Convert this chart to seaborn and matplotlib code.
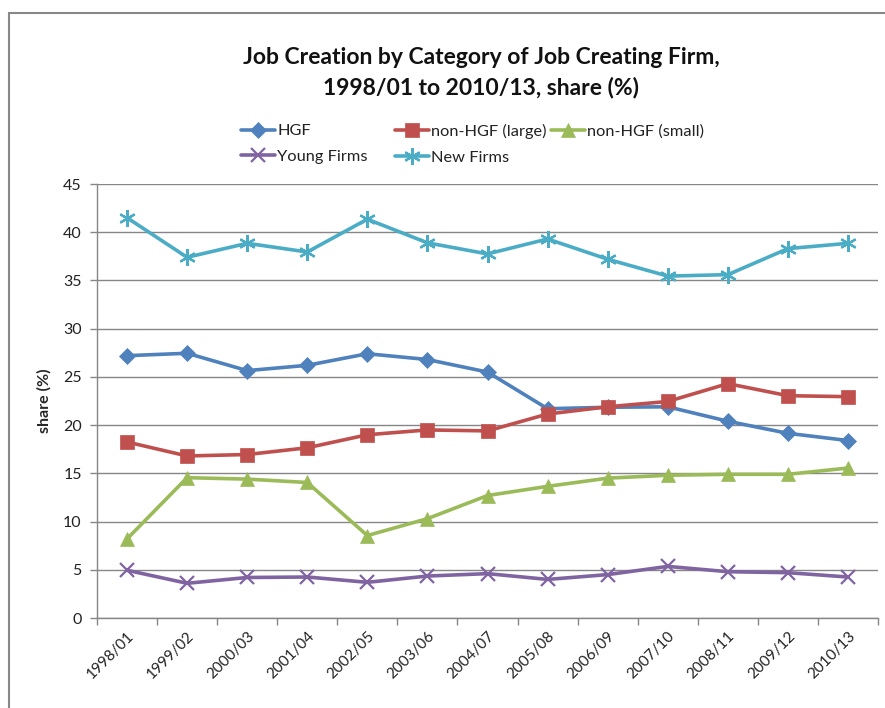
import matplotlib
matplotlib.use("Agg")
import matplotlib.pyplot as plt
import seaborn as sns
import pandas as pd
import numpy as np
from matplotlib.patches import Rectangle

periods = ["1998/01", "1999/02", "2000/03", "2001/04", "2002/05", "2003/06", "2004/07",
           "2005/08", "2006/09", "2007/10", "2008/11", "2009/12", "2010/13"]
hgf = [27.2, 27.45, 25.65, 26.2, 27.4, 26.8, 25.5, 21.7, 21.85, 21.9, 20.4, 19.15, 18.4]
non_hgf_large = [18.25, 16.8, 16.95, 17.65, 19.0, 19.5, 19.4, 21.15, 21.9, 22.45, 24.3, 23.05, 22.95]
non_hgf_small = [8.2, 14.55, 14.4, 14.05, 8.55, 10.3, 12.7, 13.65, 14.5, 14.8, 14.9, 14.9, 15.55]
young_firms = [4.95, 3.6, 4.2, 4.25, 3.7, 4.35, 4.6, 4.0, 4.5, 5.35, 4.8, 4.7, 4.25]
new_firms = [41.5, 37.4, 38.85, 37.95, 41.35, 38.9, 37.75, 39.3, 37.2, 35.45, 35.6, 38.3, 38.85]

series_names = ["HGF", "non-HGF (large)", "non-HGF (small)", "Young Firms", "New Firms"]
series_values = [hgf, non_hgf_large, non_hgf_small, young_firms, new_firms]
colors = ["#4F81BD", "#C0504D", "#9BBB59", "#8064A2", "#4BACC6"]
markers = ["D", "s", "^", "x", (6, 2, 0)]
msizes = [8, 10, 10, 10, 12]

rows = []
for name, vals in zip(series_names, series_values):
    for i, v in enumerate(vals):
        rows.append({"idx": i, "period": periods[i], "share": v, "series": name})
df = pd.DataFrame(rows)

sns.set_theme(style="white")
plt.rcParams["font.family"] = ["Lato", "DejaVu Sans"]

fig = plt.figure(figsize=(8.85, 7.08), dpi=100)
ax = fig.add_axes([97 / 885, 1 - 618 / 708, (878 - 97) / 885, (618 - 184) / 708])

for name, col, mk, ms in zip(series_names, colors, markers, msizes):
    sub = df[df["series"] == name]
    sns.lineplot(data=sub, x="idx", y="share", ax=ax, color=col, linewidth=2.6,
                 marker=mk, markersize=ms, markeredgecolor=col,
                 markeredgewidth=1.6 if mk in ("x",) or isinstance(mk, tuple) else 0.5,
                 label=name, legend=False)

ax.set_xlim(-0.5, len(periods) - 0.5)
ax.set_ylim(0, 45)
ax.set_yticks(np.arange(0, 46, 5))
ax.set_xticks(range(len(periods)))
ax.set_xticklabels(periods, rotation=45, ha="right", rotation_mode="anchor", fontsize=11, color="#222222")
ax.set_xticks(np.arange(-0.5, len(periods), 1), minor=True)
ax.tick_params(axis="x", which="major", length=0, pad=8)
ax.tick_params(axis="x", which="minor", length=5, color="#868686", width=1, direction="out", bottom=True)
ax.tick_params(axis="y", length=5, color="#868686", width=1, direction="out", left=True, labelsize=11.5, labelcolor="#222222", pad=6)
ax.grid(axis="y", color="#868686", linewidth=1)
ax.grid(axis="x", visible=False)
ax.set_axisbelow(True)
for s in ["top", "right"]:
    ax.spines[s].set_visible(False)
for s in ["left", "bottom"]:
    ax.spines[s].set_color("#868686")
    ax.spines[s].set_linewidth(1)
ax.set_xlabel("")
ax.set_ylabel("share (%)", fontsize=11.5, fontweight="bold", labelpad=8)

fig.text(481 / 885, 1 - 57 / 708, "Job Creation by Category of Job Creating Firm,",
         ha="center", va="center", fontsize=16.5, fontweight="bold", color="#111111")
fig.text(481 / 885, 1 - 88 / 708, "1998/01 to 2010/13, share (%)",
         ha="center", va="center", fontsize=16.5, fontweight="bold", color="#111111")

h, l = ax.get_legend_handles_labels()
groups = [([0, 3], 241), ([1, 4], 395), ([2], 551)]
for idxs, x0 in groups:
    leg = fig.legend([h[i] for i in idxs], [l[i] for i in idxs], ncol=1,
                     loc="upper left", bbox_to_anchor=(x0 / 885, 1 - 124 / 708),
                     frameon=False, fontsize=11.8, handlelength=2.1, handletextpad=0.12,
                     labelspacing=0.68, borderaxespad=0, borderpad=0)
    for t in leg.get_texts():
        t.set_color("#222222")

fig.patches.append(Rectangle((8.5 / 885, -0.05), 1.2, 1 - 13 / 708 + 0.05,
                             transform=fig.transFigure, fill=False,
                             edgecolor="#888888", linewidth=1.5))

fig.savefig("out.png", dpi=100)
